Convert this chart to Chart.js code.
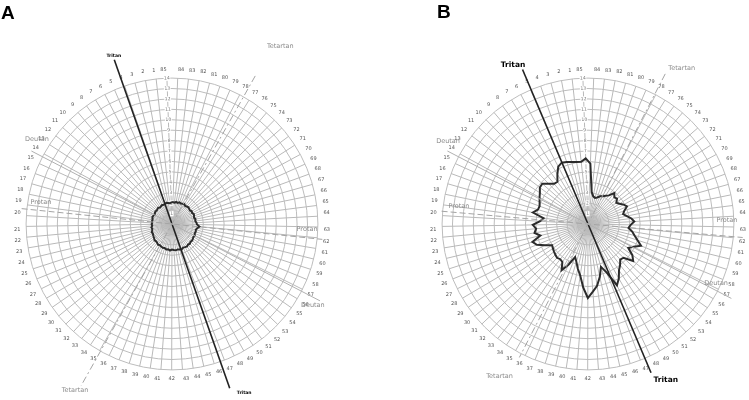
<!DOCTYPE html>
<html><head><meta charset="utf-8">
<script src="https://cdn.jsdelivr.net/npm/chart.js@4"></script>
<style>
html,body{margin:0;padding:0;width:749px;height:400px;overflow:hidden;background:#fff;}
#wrap{position:relative;width:749px;height:400px;}
canvas{position:absolute;top:0;}
#ca{left:0}
#cb{left:375px}
.tag{position:absolute;font:bold 19px "Liberation Sans",Arial,sans-serif;color:#000;line-height:1}
</style></head>
<body><div id="wrap">
<canvas id="ca" width="374" height="400"></canvas>
<canvas id="cb" width="374" height="400"></canvas>
<div class="tag" style="left:1px;top:3px">A</div>
<div class="tag" style="left:437px;top:2px">B</div>
</div>
<script>
// ---- data ----
const capLabels = [85,84,83,82,81,80,79,78,77,76,75,74,73,72,71,70,69,68,67,66,65,64,63,62,61,60,59,58,57,56,55,54,53,52,51,50,49,48,47,46,45,44,43,42,41,40,39,38,37,36,35,34,33,32,31,30,29,28,27,26,25,24,23,22,21,20,19,18,17,16,15,14,13,12,11,10,9,8,7,6,5,4,3,2,1];
const radialTicks = [0,1,2,3,4,5,6,7,8,9,10,11,12,13,14];
const errorScoresA = [
2.05,2.10,2.05,2.15,2.10,2.20,2.15,2.20,2.25,2.15,
2.20,2.25,2.20,2.15,2.25,2.20,2.30,2.25,2.20,2.30,
2.25,2.35,2.40,2.65,2.45,2.35,2.40,2.35,2.45,2.40,
2.45,2.50,2.45,2.55,2.50,2.60,2.55,2.50,2.60,2.55,
2.50,2.55,2.50,2.45,2.55,2.45,2.50,2.40,2.45,2.40,
2.35,2.40,2.30,2.25,2.30,2.20,2.15,2.10,2.05,2.10,
2.00,1.95,2.00,1.90,1.95,1.90,1.95,1.90,1.95,2.00,
1.95,1.90,1.95,2.00,1.95,2.00,2.05,1.95,2.00,2.05,
2.00,2.05,2.10,2.05,2.00];
const errorScoresB = [
6.3,5.8,3.1,2.7,2.6,2.7,2.9,3.0,3.2,3.4,
3.9,3.6,3.7,3.4,3.6,3.9,4.1,3.7,3.5,3.8,
4.2,4.45,4.1,3.9,4.3,4.6,5.0,5.5,4.9,4.5,
5.2,5.6,4.7,4.6,5.0,5.35,6.0,6.5,5.0,4.3,
5.2,6.0,6.5,7.1,6.1,5.0,4.4,3.8,3.4,4.3,
5.1,4.4,4.3,4.4,4.3,4.2,4.1,4.0,4.6,5.3,
5.6,4.7,5.2,5.0,5.3,4.6,4.3,5.4,5.0,4.95,
5.1,5.3,5.5,5.8,5.85,5.4,5.05,5.0,5.6,6.2,
6.4,6.3,6.15,6.05,6.0];
// confusion axes: name, cap number the axis passes through, reach (in score units) on both sides
const axisNames = ['Tritan','Protan','Deutan','Tetartan'];
const axisCapA = [4.1, 19.4, 14.3, 77.6];
const axisReachA = [[16.7,16.7],[14.5,14.5],[15.2,16.0],[16.3,17.8]];
const axisCapB = [4.95, 19.6, 14.3, 78.1];
const axisReachB = [[16.1,15.5],[14.1,14.9],[15.2,15.5],[16.2,14.4]];

// ---- styles / annotation placement (not data) ----
const axisStyle = {
  Tritan:  {color:'#222', width:1.6, dash:[]},
  Protan:  {color:'#a4a4a4', width:1, dash:[6,3]},
  Deutan:  {color:'#b0b0b0', width:1, dash:[]},
  Tetartan:{color:'#a4a4a4', width:1, dash:[7,3,2,3]}
};
// label anchors in scale terms: [axis name, index along spokes, value]
const labelPlacesA = [
  ['Tritan',80.96,17.05],['Tritan',37.5,17.6],
  ['Protan',66.45,12.75],['Protan',22.3,12.97],
  ['Deutan',71.8,15.3],['Deutan',28.8,15.6],
  ['Tetartan',7.86,20.0],['Tetartan',50.1,18.5]
];
const labelPlacesB = [
  ['Tritan',79.5,16.84],['Tritan',36.7,16.7],
  ['Protan',66.1,12.5],['Protan',21.4,13.34],
  ['Deutan',71.45,15.6],['Deutan',27.6,13.55],
  ['Tetartan',7.8,17.44],['Tetartan',50.1,16.87]
];

const axesPlugin = {
  id: 'confusionAxes',
  afterDatasetsDraw(chart, args, opts) {
    const r = chart.scales.r;
    const ctx = chart.ctx;
    const n = capLabels.length;
    ctx.save();
    axisNames.forEach((name, k) => {
      const i1 = n - opts.caps[k];
      const i2 = i1 + n / 2;
      const p1 = r.getPointPositionForValue(i1, opts.reach[k][0]);
      const p2 = r.getPointPositionForValue(i2, opts.reach[k][1]);
      const st = axisStyle[name];
      ctx.beginPath();
      ctx.strokeStyle = st.color;
      ctx.lineWidth = st.width;
      ctx.setLineDash(st.dash);
      ctx.moveTo(p1.x, p1.y);
      ctx.lineTo(p2.x, p2.y);
      ctx.stroke();
    });
    ctx.setLineDash([]);
    ctx.textAlign = 'center';
    ctx.textBaseline = 'middle';
    opts.labels.forEach(([name, idx, val]) => {
      const p = r.getPointPositionForValue(idx, val);
      if (name === 'Tritan') {
        ctx.fillStyle = '#000';
        ctx.font = 'bold ' + opts.tritanSize + 'px "DejaVu Sans", sans-serif';
      } else {
        ctx.fillStyle = '#8a8a8a';
        ctx.font = '6.5px "DejaVu Sans", sans-serif';
      }
      ctx.fillText(name, p.x, p.y);
    });
    ctx.restore();
  }
};

function makeChart(id, values, pad, caps, reach, labels, tritanSize) {
  return new Chart(document.getElementById(id), {
    type: 'radar',
    data: {
      labels: capLabels,
      datasets: [{
        data: values,
        borderColor: '#2b2b2b',
        borderWidth: 2,
        pointRadius: 0,
        fill: false,
        tension: 0
      }]
    },
    options: {
      responsive: false,
      animation: false,
      layout: {padding: pad},
      plugins: {
        legend: {display: false},
        tooltip: {enabled: false},
        confusionAxes: {caps: caps, reach: reach, labels: labels, tritanSize: tritanSize}
      },
      scales: {
        r: {
          min: radialTicks[0],
          max: radialTicks[radialTicks.length - 1],
          startAngle: -2,
          ticks: {
            stepSize: 1,
            color: '#777',
            font: {size: 4.5, family: 'DejaVu Sans'},
            backdropColor: '#fff',
            backdropPadding: 0.5,
            showLabelBackdrop: true
          },
          grid: {circular: true, color: '#bdbdbd', lineWidth: 1},
          angleLines: {color: '#b9b9b9', lineWidth: 1},
          pointLabels: {
            color: '#555',
            font: {size: 5, family: 'DejaVu Sans'},
            padding: 3
          }
        }
      }
    },
    plugins: [axesPlugin]
  });
}

makeChart('ca', errorScoresA, {left:14, right:44, top:67, bottom:17}, axisCapA, axisReachA, labelPlacesA, 4.5);
makeChart('cb', errorScoresB, {left:55, right:3, top:67, bottom:17}, axisCapB, axisReachB, labelPlacesB, 7.5);
</script>
</body></html>
